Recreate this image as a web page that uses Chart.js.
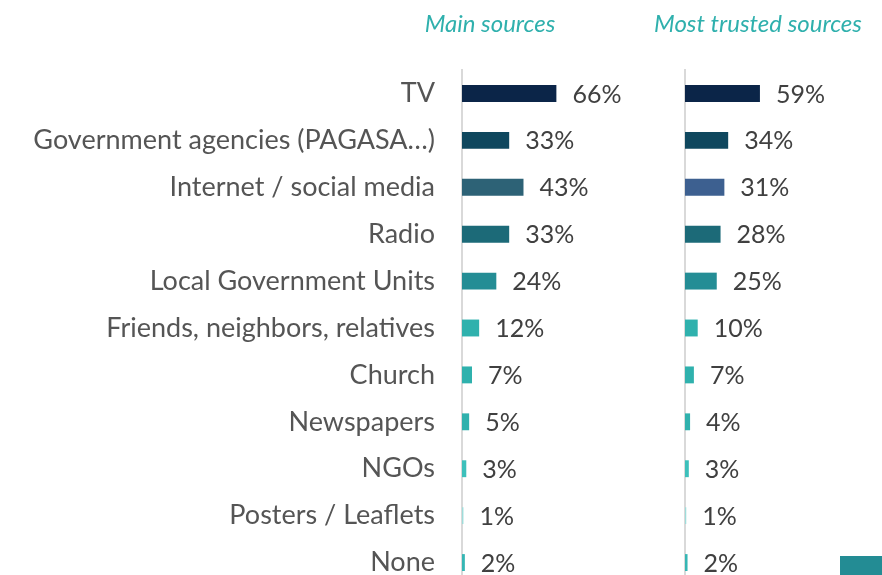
<!DOCTYPE html>
<html>
<head>
<meta charset="utf-8">
<script src="https://cdn.jsdelivr.net/npm/chart.js@4/dist/chart.umd.min.js"></script>
<style>
  html, body { margin: 0; padding: 0; background: #fff; overflow: hidden; }
  .wrap { position: relative; width: 882px; height: 575px; overflow: hidden; }
  #mainBox { position: absolute; left: 0; top: 0; width: 665px; height: 622px; }
  #trustBox { position: absolute; left: 640px; top: 0; width: 242px; height: 622px; }
  .corner { position: absolute; right: 0; bottom: 0; width: 42px; height: 19px; background: #238c94; }
</style>
</head>
<body>
<div class="wrap">
  <div id="mainBox"><canvas id="mainChart"></canvas></div>
  <div id="trustBox"><canvas id="trustChart"></canvas></div>
  <div class="corner"></div>
</div>
<script>
// Data
const categories = ['TV', 'Government agencies (PAGASA…)', 'Internet / social media', 'Radio',
  'Local Government Units', 'Friends, neighbors, relatives', 'Church', 'Newspapers', 'NGOs',
  'Posters / Leaflets', 'None'];
const mainValues = [66, 33, 43, 33, 24, 12, 7, 5, 3, 1, 2];
const trustedValues = [59, 34, 31, 28, 25, 10, 7, 4, 3, 1, 2];

const mainColors = ['#0b2548', '#0f475e', '#2d6276', '#1c6a78', '#248d95', '#2fb1ad',
  '#2fb1ad', '#30b1ad', '#3cc0bb', '#9fdcda', '#36b6b4'];
const trustedColors = ['#0b2548', '#0f475e', '#3d6090', '#1c6a78', '#248d95', '#2fb1ad',
  '#2fb1ad', '#30b1ad', '#3cc0bb', '#9fdcda', '#36b6b4'];

const fontFamily = 'Lato, "Open Sans", sans-serif';

// value labels + panel title
const labelPlugin = {
  id: 'valueLabels',
  afterDatasetsDraw(chart, args, opts) {
    const ctx = chart.ctx;
    const meta = chart.getDatasetMeta(0);
    const values = chart.data.datasets[0].data;
    ctx.save();
    ctx.font = '25px ' + fontFamily;
    ctx.fillStyle = '#404040';
    ctx.textAlign = 'left';
    ctx.textBaseline = 'middle';
    meta.data.forEach((bar, i) => {
      ctx.fillText(values[i] + '%', bar.x + 16, bar.y + 1);
    });
    ctx.font = 'italic 24px ' + fontFamily;
    ctx.fillStyle = '#2fb0ad';
    ctx.textAlign = 'center';
    ctx.fillText(opts.title, chart.chartArea.left + opts.titleOffset, 24);
    ctx.restore();
  }
};

const makeChart = (id, values, colors, title, titleOffset, showLabels) => {
  new Chart(document.getElementById(id), {
    type: 'bar',
    data: {
      labels: categories,
      datasets: [{
        data: values,
        backgroundColor: colors,
        borderWidth: 0,
        barPercentage: 0.36,
        categoryPercentage: 1
      }]
    },
    options: {
      indexAxis: 'y',
      responsive: true,
      maintainAspectRatio: false,
      animation: false,
      layout: {
        padding: showLabels
          ? { left: 0, right: 60, top: 70, bottom: 36 }
          : { left: 45, right: 70, top: 70, bottom: 36 }
      },
      plugins: {
        legend: { display: false },
        tooltip: { enabled: false },
        valueLabels: { title: title, titleOffset: titleOffset }
      },
      scales: {
        x: { display: false, min: 0, max: 100 },
        y: {
          afterFit: (s) => { s.width = showLabels ? 462 : 0; },
          grid: { display: false },
          border: { display: true, color: '#d9d9d9', width: 2 },
          ticks: {
            display: showLabels,
            padding: 19,
            color: '#555555',
            font: { family: fontFamily, size: 27 }
          }
        }
      }
    },
    plugins: [labelPlugin]
  });
};

makeChart('mainChart', mainValues, mainColors, 'Main sources', 28, true);
makeChart('trustChart', trustedValues, trustedColors, 'Most trusted sources', 73, false);
</script>
</body>
</html>
